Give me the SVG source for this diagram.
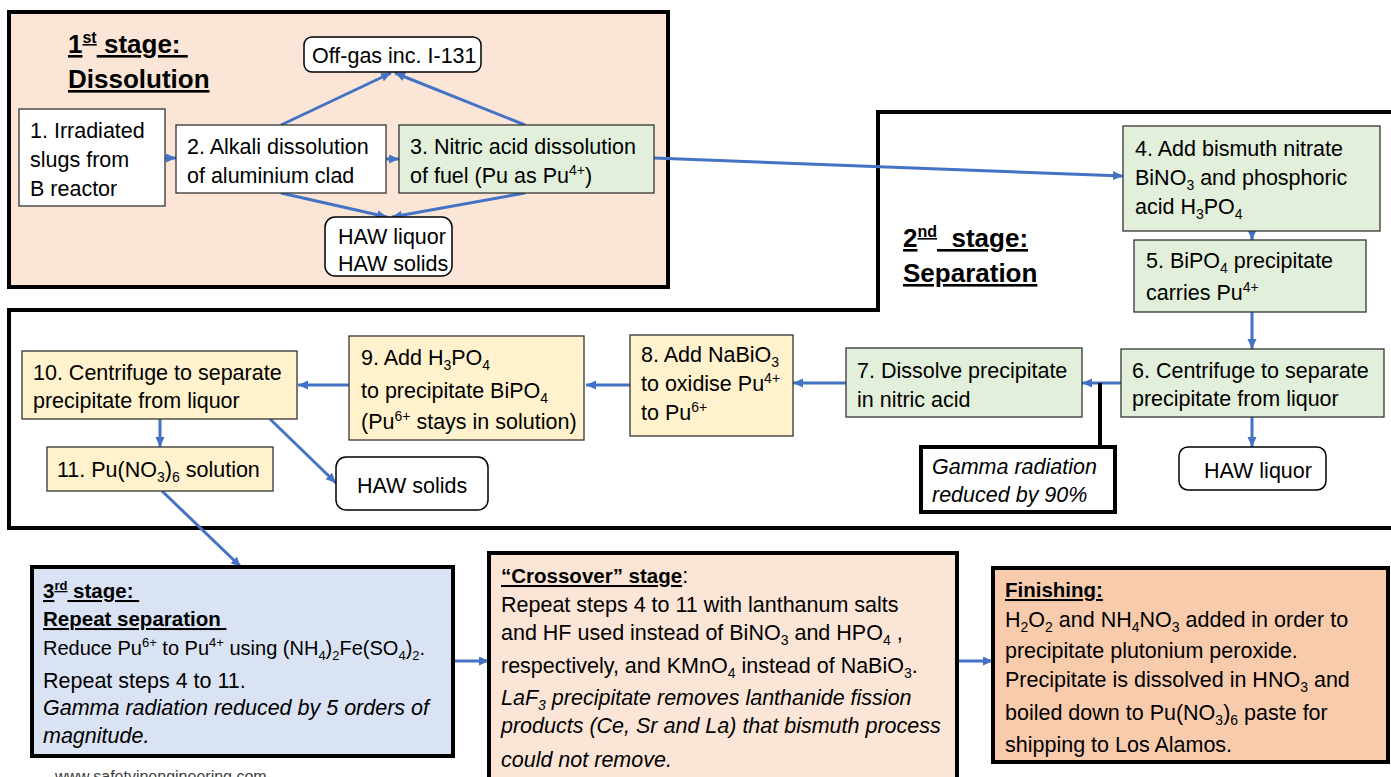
<svg xmlns="http://www.w3.org/2000/svg" width="1391" height="777" viewBox="0 0 1391 777">
<style>
.t{font-family:"Liberation Sans",Arial,sans-serif;font-size:21.5px;fill:#000}
.tt{font-family:"Liberation Sans",Arial,sans-serif;font-size:26px;font-weight:bold;fill:#000;text-decoration:underline}
.bt{font-weight:bold;font-size:20.5px}
.i{font-style:italic}
.u{text-decoration:underline}
.s{font-size:14px}
.ss{font-size:16px}
.node{stroke:#333;stroke-width:1.3}
.green{fill:#E2EFDA}
.yellow{fill:#FFF2CC}
.white{fill:#fff}
.round{fill:#fff;stroke:#000;stroke-width:1.5}
.stage{stroke:#000;stroke-width:4}
.conn{stroke:#4472C4;stroke-width:3;fill:none;marker-end:url(#ah)}
.blk{stroke:#000;stroke-width:4;fill:none}
</style>
<defs>
<marker id="ah" markerUnits="userSpaceOnUse" markerWidth="12" markerHeight="10" refX="10" refY="4.5" orient="auto">
<path d="M0,0 L10,4.5 L0,9 z" fill="#4472C4"/>
</marker>
</defs>
<rect width="1391" height="777" fill="#fff"/>

<g id="stage1">
<rect class="stage" x="9" y="12" width="659" height="275" fill="#FBE5D6"/>
<text class="tt" x="68" y="53">1<tspan font-size="16" dy="-10">st</tspan><tspan dy="10">&#160;stage:&#160;</tspan></text>
<text class="tt" x="68" y="88">Dissolution</text>
</g>

<g id="stage2">
<polygon class="stage" points="878,112 1400,112 1400,528 9,528 9,310 878,310" fill="#fff"/>
<text class="tt" x="903" y="247">2<tspan font-size="16" dy="-10">nd</tspan><tspan dy="10">&#160;&#160;stage:</tspan></text>
<text class="tt" x="903" y="282">Separation</text>
</g>

<g id="connectors">
<path class="conn" d="M165,158 L176,158"/>
<path class="conn" d="M386,159 L399,159"/>
<path class="conn" d="M281,125 L391,73"/>
<path class="conn" d="M525,125 L395,73"/>
<path class="conn" d="M281,193 L387,217"/>
<path class="conn" d="M525,193 L392,217"/>
<path class="conn" d="M654,158 L1123,176"/>
<path class="conn" d="M1252,231 L1252,240"/>
<path class="conn" d="M1252,312 L1252,349"/>
<path class="conn" d="M1252,417 L1252,447"/>
<path class="conn" d="M1121,383 L1082,383"/>
<path class="blk" d="M1100,383 L1100,447"/>
<path class="conn" d="M846,383 L793,383"/>
<path class="conn" d="M630,385 L586,385"/>
<path class="conn" d="M349,385 L298,385"/>
<path class="conn" d="M160,419 L160,447"/>
<path class="conn" d="M270,419 L336,483"/>
<path class="conn" d="M162,491 L241,567"/>
<path class="conn" d="M453,661 L489,661"/>
<path class="conn" d="M957,661 L993,661"/>
</g>

<g id="offgas">
<rect class="round" x="304" y="37" width="177" height="35" rx="8"/>
<text class="t" x="312" y="63">Off-gas inc. I-131</text>
</g>
<g id="step1">
<rect class="node white" x="19" y="109" width="146" height="97"/>
<text class="t" x="30" y="138">1. Irradiated</text>
<text class="t" x="30" y="167">slugs from</text>
<text class="t" x="30" y="196">B reactor</text>
</g>
<g id="step2">
<rect class="node white" x="176" y="125" width="210" height="68"/>
<text class="t" x="187" y="154">2. Alkali dissolution</text>
<text class="t" x="187" y="183">of aluminium clad</text>
</g>
<g id="step3">
<rect class="node green" x="399" y="125" width="255" height="68"/>
<text class="t" x="410" y="154">3. Nitric acid dissolution</text>
<text class="t" x="410" y="183">of fuel (Pu as Pu<tspan class="s" dy="-8">4+</tspan><tspan dy="8">)</tspan></text>
</g>
<g id="haw1">
<rect class="round" x="325" y="217" width="127" height="59" rx="10"/>
<text class="t" x="338" y="244">HAW liquor</text>
<text class="t" x="338" y="271">HAW solids</text>
</g>

<g id="step4">
<rect class="node green" x="1123" y="126" width="257" height="105"/>
<text class="t" x="1135" y="156">4. Add bismuth nitrate</text>
<text class="t" x="1135" y="185">BiNO<tspan class="s" dy="5">3</tspan><tspan dy="-5"> and phosphoric</tspan></text>
<text class="t" x="1135" y="214">acid H<tspan class="s" dy="5">3</tspan><tspan dy="-5">PO</tspan><tspan class="s" dy="5">4</tspan></text>
</g>
<g id="step5">
<rect class="node green" x="1134" y="240" width="232" height="72"/>
<text class="t" x="1146" y="268">5. BiPO<tspan class="s" dy="5">4</tspan><tspan dy="-5"> precipitate</tspan></text>
<text class="t" x="1146" y="300">carries Pu<tspan class="s" dy="-8">4+</tspan></text>
</g>
<g id="step6">
<rect class="node green" x="1121" y="349" width="263" height="68"/>
<text class="t" x="1132" y="378">6. Centrifuge to separate</text>
<text class="t" x="1132" y="406">precipitate from liquor</text>
</g>
<g id="haw2">
<rect class="round" x="1179" y="447" width="147" height="43" rx="9"/>
<text class="t" x="1204" y="478">HAW liquor</text>
</g>
<g id="gamma1">
<rect x="921" y="447" width="194" height="65" fill="#fff" stroke="#000" stroke-width="4"/>
<text class="t i" x="932" y="474">Gamma radiation</text>
<text class="t i" x="932" y="502">reduced by 90%</text>
</g>
<g id="step7">
<rect class="node green" x="846" y="348" width="236" height="69"/>
<text class="t" x="857" y="378">7. Dissolve precipitate</text>
<text class="t" x="857" y="407">in nitric acid</text>
</g>
<g id="step8">
<rect class="node yellow" x="630" y="335" width="163" height="101"/>
<text class="t" x="641" y="362">8. Add NaBiO<tspan class="s" dy="5">3</tspan></text>
<text class="t" x="641" y="391">to oxidise Pu<tspan class="s" dy="-8">4+</tspan></text>
<text class="t" x="641" y="420">to Pu<tspan class="s" dy="-8">6+</tspan></text>
</g>
<g id="step9">
<rect class="node yellow" x="349" y="336" width="235" height="104"/>
<text class="t" x="361" y="365">9. Add H<tspan class="s" dy="5">3</tspan><tspan dy="-5">PO</tspan><tspan class="s" dy="5">4</tspan></text>
<text class="t" x="361" y="398">to precipitate BiPO<tspan class="s" dy="5">4</tspan></text>
<text class="t" x="361" y="429">(Pu<tspan class="s" dy="-8">6+</tspan><tspan dy="8"> stays in solution)</tspan></text>
</g>
<g id="step10">
<rect class="node yellow" x="22" y="351" width="275" height="68"/>
<text class="t" x="33" y="380">10. Centrifuge to separate</text>
<text class="t" x="33" y="408">precipitate from liquor</text>
</g>
<g id="step11">
<rect class="node yellow" x="47" y="447" width="226" height="44"/>
<text class="t" x="57" y="477">11. Pu(NO<tspan class="s" dy="5">3</tspan><tspan dy="-5">)</tspan><tspan class="s" dy="5">6</tspan><tspan dy="-5"> solution</tspan></text>
</g>
<g id="haw3">
<rect class="round" x="336" y="457" width="152" height="53" rx="10"/>
<text class="t" x="357" y="493">HAW solids</text>
</g>

<g id="stage3">
<rect class="stage" x="32" y="567" width="421" height="189" fill="#DAE3F3"/>
<text class="t bt u" x="43" y="598">3<tspan font-size="13" dy="-8">rd</tspan><tspan dy="8">&#160;stage:&#160;</tspan></text>
<text class="t bt u" x="43" y="626">Repeat separation&#160;</text>
<text class="t" x="43" y="655" font-size="20" style="font-size:20px">Reduce Pu<tspan class="s" dy="-8" style="font-size:13px">6+</tspan><tspan dy="8"> to Pu</tspan><tspan class="s" dy="-8" style="font-size:13px">4+</tspan><tspan dy="8"> using (NH</tspan><tspan class="s" dy="5" style="font-size:13px">4</tspan><tspan dy="-5">)</tspan><tspan class="s" dy="5" style="font-size:13px">2</tspan><tspan dy="-5">Fe(SO</tspan><tspan class="s" dy="5" style="font-size:13px">4</tspan><tspan dy="-5">)</tspan><tspan class="s" dy="5" style="font-size:13px">2</tspan><tspan dy="-5">.</tspan></text>
<text class="t" x="43" y="688">Repeat steps 4 to 11.</text>
<text class="t i" x="43" y="715">Gamma radiation reduced by 5 orders of</text>
<text class="t i" x="43" y="743">magnitude.</text>
</g>

<g id="crossover">
<rect class="stage" x="489" y="553" width="468" height="232" fill="#FBE5D6"/>
<text class="t" x="501" y="583"><tspan class="bt u">“Crossover” stage</tspan>:</text>
<text class="t" x="501" y="612">Repeat steps 4 to 11 with lanthanum salts</text>
<text class="t" x="501" y="640">and HF used instead of BiNO<tspan class="s" dy="5">3</tspan><tspan dy="-5"> and HPO</tspan><tspan class="s" dy="5">4</tspan><tspan dy="-5"> ,</tspan></text>
<text class="t" x="501" y="673">respectively, and KMnO<tspan class="s" dy="5">4</tspan><tspan dy="-5"> instead of NaBiO</tspan><tspan class="s" dy="5">3</tspan><tspan dy="-5">.</tspan></text>
<text class="t i" x="501" y="705">LaF<tspan class="s" dy="5">3</tspan><tspan dy="-5"> precipitate removes lanthanide fission</tspan></text>
<text class="t i" x="501" y="733">products (Ce, Sr and La) that bismuth process</text>
<text class="t i" x="501" y="767">could not remove.</text>
</g>

<g id="finishing">
<rect class="stage" x="993" y="568" width="395" height="194" fill="#F8CBAD"/>
<text class="t bt u" x="1005" y="597">Finishing:</text>
<text class="t" x="1005" y="627">H<tspan class="s" dy="5">2</tspan><tspan dy="-5">O</tspan><tspan class="s" dy="5">2</tspan><tspan dy="-5"> and NH</tspan><tspan class="s" dy="5">4</tspan><tspan dy="-5">NO</tspan><tspan class="s" dy="5">3</tspan><tspan dy="-5"> added in order to</tspan></text>
<text class="t" x="1005" y="658">precipitate plutonium peroxide.</text>
<text class="t" x="1005" y="687">Precipitate is dissolved in HNO<tspan class="s" dy="5">3</tspan><tspan dy="-5"> and</tspan></text>
<text class="t" x="1005" y="720">boiled down to Pu(NO<tspan class="s" dy="5">3</tspan><tspan dy="-5">)</tspan><tspan class="s" dy="5">6</tspan><tspan dy="-5"> paste for</tspan></text>
<text class="t" x="1005" y="752">shipping to Los Alamos.</text>
</g>

<text class="t ss" x="55" y="782" style="fill:#404040">www.safetyinengineering.com</text>
</svg>
